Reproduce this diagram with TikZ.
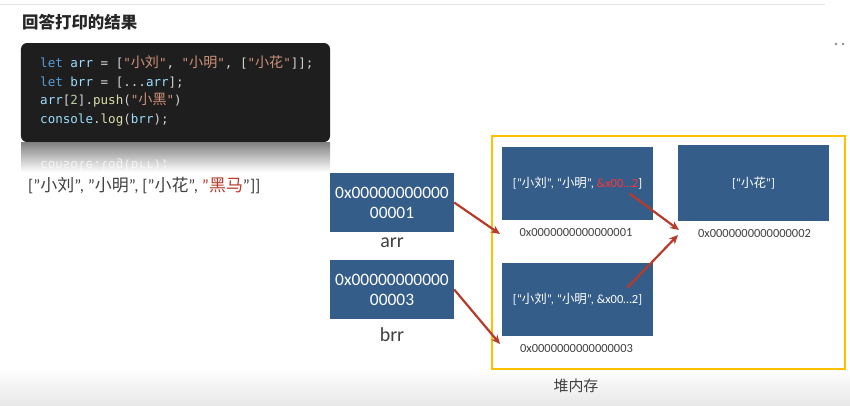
\documentclass[tikz,border=0pt]{standalone}
\usepackage{fontspec}
\setmainfont{Carlito}
\setmonofont{DejaVu Sans Mono}
\newfontfamily\zhfont{Noto Sans CJK SC}
\newfontfamily\zhcode{Noto Sans CJK SC}[Scale=1.12]
\newcommand{\zh}[1]{{\zhfont #1}}
\newcommand{\zhc}[1]{{\zhcode #1}}
\usepackage{xcolor}
\definecolor{boxBlue}{HTML}{345D8A}
\definecolor{heapGold}{HTML}{FFC000}
\definecolor{ptrRed}{HTML}{B83A2B}
\definecolor{hotRed}{HTML}{FF3535}
\definecolor{inkGray}{HTML}{404040}
\definecolor{codeBg}{HTML}{1E1E1E}
\definecolor{codeFg}{HTML}{D4D4D4}
\definecolor{kwBlue}{HTML}{569CD6}
\definecolor{varBlue}{HTML}{9CDCFE}
\definecolor{strOrange}{HTML}{CE9178}
\definecolor{fnYellow}{HTML}{DCDCAA}
\definecolor{numGreen}{HTML}{B5CEA8}
\usetikzlibrary{arrows.meta,positioning,calc}

\begin{document}
\begin{tikzpicture}[x=1bp,y=-1bp,
  mem/.style={draw=none,fill=boxBlue,text=white,align=center,inner sep=0pt},
  stackbox/.style={mem,minimum width=124bp,minimum height=59bp,
    font=\fontsize{17.5}{20}\selectfont},
  heapbox/.style={mem,minimum width=151bp,minimum height=73bp,
    font=\fontsize{12.5}{15}\selectfont},
  addr/.style={text=inkGray,inner sep=0pt,font=\fontsize{12.5}{15}\selectfont},
  varname/.style={text=inkGray,inner sep=0pt,font=\fontsize{20}{24}\selectfont},
  codeline/.style={anchor=base west,inner sep=0pt,text=codeFg,
    font=\ttfamily\fontsize{12.6}{15}\selectfont},
  arr/.style={-{Stealth[length=9bp,width=8bp]},line width=2.2bp,draw=ptrRed}]
  \useasboundingbox (0,0) rectangle (850,405);
  % page bits
  \shade[top color=white,bottom color=black!9] (0,368) rectangle (850,405);
  \draw[black!10,line width=1bp] (0,4) -- (825,4);
  \fill[black!45] (836,44) circle (1.4bp) (843,44) circle (1.4bp);
  \node[anchor=west,inner sep=0pt,text=black!85,
    font=\zhfont\bfseries\fontsize{16.5}{20}\selectfont] (title) at (22,22)
    {回答打印的结果};
  % code card and its reflection
  \node[fill=codeBg,rounded corners=6bp,minimum width=309bp,
    minimum height=99bp,inner sep=0pt] (code) at (175.5,92.5) {};
  \node[codeline] (line1) at (40,67.5)
    {\textcolor{kwBlue}{let} \textcolor{varBlue}{arr} = [\textcolor{strOrange}{"\zhc{小刘}"}, \textcolor{strOrange}{"\zhc{小明}"}, [\textcolor{strOrange}{"\zhc{小花}"}]];};
  \node[codeline] (line2) at (40,86)
    {\textcolor{kwBlue}{let} \textcolor{varBlue}{brr} = [...\textcolor{varBlue}{arr}];};
  \node[codeline] (line3) at (40,104.5)
    {\textcolor{varBlue}{arr}[\textcolor{numGreen}{2}].\textcolor{fnYellow}{push}(\textcolor{strOrange}{"\zhc{小黑}"})};
  \node[codeline] (line4) at (40,123)
    {\textcolor{varBlue}{console}.\textcolor{fnYellow}{log}(\textcolor{varBlue}{brr});};
  \shade[top color=black!50,bottom color=white] (21,142) rectangle (330,172);
  \begin{scope}[shift={(0,161)},yscale=-1]
    \node[codeline,transform shape,text=white,opacity=0.7] (mirror) at (40,0)
      {console.log(brr);};
  \end{scope}
  \node[anchor=west,inner sep=0pt,text=inkGray,
    font=\fontsize{17}{20}\selectfont] (result) at (28,186)
    {["\zh{小刘}", "\zh{小明}", ["\zh{小花}", \textcolor{ptrRed}{"\zh{黑马}}"]]};
  % stack
  \node[stackbox] (arrbox) at (392,202.5) {0x00000000000\\00001};
  \node[varname] (arrname) at (392,243) {arr};
  \node[stackbox] (brrbox) at (392,289.5) {0x00000000000\\00003};
  \node[varname] (brrname) at (392,335) {brr};
  % heap
  \node[draw=heapGold,line width=2.5bp,minimum width=353bp,minimum height=233bp,
    inner sep=0pt] (heap) at (668.5,252.5) {};
  \node[text=inkGray,inner sep=0pt,font=\zhfont\fontsize{15}{18}\selectfont]
    (heapname) at (576,386) {堆内存};
  \node[heapbox] (obj1) at (577.5,183.5)
    {[“\zh{小刘}”, “\zh{小明}”, \textcolor{hotRed}{\&x00…2}]};
  \node[addr] (addr1) at (576,232) {0x0000000000000001};
  \node[heapbox,minimum height=76bp] (obj2) at (753.5,183) {[“\zh{小花}”]};
  \node[addr] (addr2) at (754.5,233) {0x0000000000000002};
  \node[heapbox] (obj3) at (577.5,299.5)
    {[“\zh{小刘}”, “\zh{小明}”, \&x00…2]};
  \node[addr] (addr3) at (576.5,348) {0x0000000000000003};
  % pointers
  \coordinate (arrtip) at (500,234);
  \coordinate (brrtip) at (500,344);
  \coordinate (innertip) at (679,230);
  \coordinate (sharedtip) at (678,235);
  \draw[arr] (arrbox.east) -- (arrtip);
  \draw[arr] (brrbox.east) -- (brrtip);
  \draw[arr] ($(obj1.center)+(52,10)$) -- (innertip);
  \draw[arr] ($(obj3.center)+(50,-12)$) -- (sharedtip);
\end{tikzpicture}
\end{document}
